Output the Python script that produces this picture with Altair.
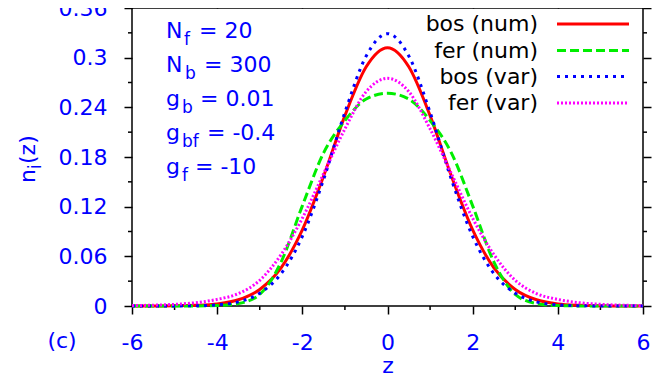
import altair as alt
import pandas as pd

# ---------------- data ----------------
z_vals = [-6.0, -5.5, -5.0, -4.5, -4.0, -3.5, -3.0, -2.5, -2.0, -1.5, -1.0, -0.5, 0.0,
          0.5, 1.0, 1.5, 2.0, 2.5, 3.0, 3.5, 4.0, 4.5, 5.0, 5.5, 6.0]
bos_num = [0.0, 0.0001, 0.0002, 0.0008, 0.0025, 0.0075, 0.020, 0.046, 0.092, 0.157, 0.230, 0.289, 0.312,
           0.289, 0.230, 0.157, 0.092, 0.046, 0.020, 0.0075, 0.0025, 0.0008, 0.0002, 0.0001, 0.0]
fer_num = [0.0, 0.0, 0.0, 0.0001, 0.0005, 0.003, 0.014, 0.053, 0.121, 0.185, 0.224, 0.250, 0.257,
           0.250, 0.224, 0.185, 0.121, 0.053, 0.014, 0.003, 0.0005, 0.0001, 0.0, 0.0, 0.0]
bos_var = [0.0, 0.0, 0.0001, 0.0003, 0.0014, 0.005, 0.0155, 0.039, 0.084, 0.153, 0.234, 0.302, 0.329,
           0.302, 0.234, 0.153, 0.084, 0.039, 0.0155, 0.005, 0.0014, 0.0003, 0.0001, 0.0, 0.0]
fer_var = [0.0005, 0.001, 0.002, 0.004, 0.008, 0.015, 0.031, 0.062, 0.106, 0.160, 0.214, 0.259, 0.275,
           0.259, 0.214, 0.160, 0.106, 0.062, 0.031, 0.015, 0.008, 0.004, 0.002, 0.001, 0.0005]

series_names = ["bos (num)", "fer (num)", "bos (var)", "fer (var)"]
series_values = [bos_num, fer_num, bos_var, fer_var]

x_major = [-6, -4, -2, 0, 2, 4, 6]
x_minor = [-5, -3, -1, 1, 3, 5]
y_major = [0, 0.06, 0.12, 0.18, 0.24, 0.3, 0.36]
y_minor = [0.03, 0.09, 0.15, 0.21, 0.27, 0.33]

param_base = ["N", "N", "g", "g", "g"]
param_sub = ["f", "b", "b", "bf", "f"]
param_val = ["= 20", "= 300", "= 0.01", "= -0.4", "= -10"]

y_title = ["n", "i", "(z)"]
panel_label = "(c)"
x_title = "z"

# ---------------- styling / layout ----------------
W, H = 511, 298
FONT = "DejaVu Sans"
FS = 22
SUBFS = 17
BLUE = "#0000ff"
colors = ["#ff0000", "#00ee00", "#0000ff", "#ff00ff"]
dashes = [None, [9, 4], [3, 5], [2, 2]]

rows = []
for name, vals in zip(series_names, series_values):
    for z, v in zip(z_vals, vals):
        rows.append({"z": z, "n": v, "series": name})
df = pd.DataFrame(rows)

xscale = alt.Scale(domain=[-6, 6], nice=False, zero=False)
yscale = alt.Scale(domain=[0, 0.36], nice=False, zero=False)

tick_common = dict(tickSize=8, tickWidth=1.5, tickColor="black", domain=False, grid=False)

x_bottom = alt.Axis(orient="bottom", values=x_major, labelExpr="'' + datum.value",
                    labelFont=FONT, labelFontSize=FS, labelColor=BLUE, labelPadding=18,
                    labelFlush=False, labelOverlap=False, title=x_title, titleFont=FONT,
                    titleFontSize=FS, titleFontWeight="normal", titleColor=BLUE,
                    titleY=66, titleBaseline="alphabetic", **tick_common)
y_left = alt.Axis(orient="left", values=y_major, labelExpr="'' + datum.value",
                  labelFont=FONT, labelFontSize=FS, labelColor=BLUE, labelPadding=17,
                  labelFlush=False, labelOverlap=False, title="", **tick_common)
x_top = alt.Axis(orient="top", values=x_major, labels=False, title="", **tick_common)
y_right = alt.Axis(orient="right", values=y_major, labels=False, title="", **tick_common)

layers = []

# axis carrier layers (invisible)
layers.append(
    alt.Chart(df).mark_point(opacity=0).encode(
        x=alt.X("z:Q", scale=xscale, axis=x_bottom),
        y=alt.Y("n:Q", scale=yscale, axis=y_left),
    )
)
layers.append(
    alt.Chart(df).mark_point(opacity=0).encode(
        x=alt.X("z:Q", scale=xscale, axis=x_top),
        y=alt.Y("n:Q", scale=yscale, axis=y_right),
    )
)

# minor ticks
mx = pd.DataFrame({"z": x_minor})
my = pd.DataFrame({"n": y_minor})
layers.append(alt.Chart(mx).mark_rule(color="black", strokeWidth=1.5).encode(
    x=alt.X("z:Q", scale=xscale, axis=None), y=alt.value(H), y2=alt.value(H + 4)))
layers.append(alt.Chart(mx).mark_rule(color="black", strokeWidth=1.5).encode(
    x=alt.X("z:Q", scale=xscale, axis=None), y=alt.value(0), y2=alt.value(-4)))
layers.append(alt.Chart(my).mark_rule(color="black", strokeWidth=1.5).encode(
    y=alt.Y("n:Q", scale=yscale, axis=None), x=alt.value(0), x2=alt.value(-4)))
layers.append(alt.Chart(my).mark_rule(color="black", strokeWidth=1.5).encode(
    y=alt.Y("n:Q", scale=yscale, axis=None), x=alt.value(W), x2=alt.value(W + 4)))

# curves
for name, col, dash in zip(series_names, colors, dashes):
    mk = dict(color=col, strokeWidth=3, interpolate="monotone")
    if dash is not None:
        mk["strokeDash"] = dash
    layers.append(
        alt.Chart(df).transform_filter(alt.datum.series == name).mark_line(**mk).encode(
            x=alt.X("z:Q", scale=xscale, axis=None),
            y=alt.Y("n:Q", scale=yscale, axis=None),
        )
    )

# legend
leg_y = [16, 42.5, 68.5, 95]
for name, col, dash, ly in zip(series_names, colors, dashes, leg_y):
    ldf = pd.DataFrame({"label": [name]})
    layers.append(alt.Chart(ldf).mark_text(align="right", baseline="middle", font=FONT,
                                           fontSize=FS, color="black").encode(
        x=alt.value(406), y=alt.value(ly), text="label:N"))
    mk = dict(color=col, strokeWidth=3)
    if dash is not None:
        mk["strokeDash"] = dash
    layers.append(alt.Chart(ldf).mark_rule(**mk).encode(
        x=alt.value(425), x2=alt.value(497), y=alt.value(ly)))

# parameter block
base_y = [30, 64, 98, 132, 166]
sub_x = [52, 53, 50, 50, 50]
val_x = [67, 72, 68, 75, 63]
for b, s, v, py, sx, vx in zip(param_base, param_sub, param_val, base_y, sub_x, val_x):
    pdf = pd.DataFrame({"b": [b], "s": [s], "v": [v]})
    layers.append(alt.Chart(pdf).mark_text(align="left", baseline="alphabetic", font=FONT,
                                           fontSize=FS, color=BLUE).encode(
        x=alt.value(34), y=alt.value(py), text="b:N"))
    layers.append(alt.Chart(pdf).mark_text(align="left", baseline="alphabetic", font=FONT,
                                           fontSize=SUBFS, color=BLUE).encode(
        x=alt.value(sx), y=alt.value(py + 7), text="s:N"))
    layers.append(alt.Chart(pdf).mark_text(align="left", baseline="alphabetic", font=FONT,
                                           fontSize=FS, color=BLUE).encode(
        x=alt.value(vx), y=alt.value(py), text="v:N"))

# rotated y title n_i(z)
yt_dx = [0, 14, 19]
yt_dy = [0, 6, 0]
yt_fs = [FS, SUBFS, FS]
for t, dx, dy, fs in zip(y_title, yt_dx, yt_dy, yt_fs):
    tdf = pd.DataFrame({"t": [t]})
    layers.append(alt.Chart(tdf).mark_text(align="left", baseline="alphabetic", angle=270,
                                           dx=dx, dy=dy, font=FONT, fontSize=fs,
                                           color=BLUE).encode(
        x=alt.value(-97), y=alt.value(175), text="t:N"))

# panel label
cdf = pd.DataFrame({"t": [panel_label]})
layers.append(alt.Chart(cdf).mark_text(align="center", baseline="alphabetic", font=FONT,
                                       fontSize=FS, color=BLUE).encode(
    x=alt.value(-70), y=alt.value(340), text="t:N"))

chart = alt.layer(*layers).resolve_axis(x="independent", y="independent").properties(
    width=W, height=H,
    padding={"left": 124, "top": 0, "right": 13, "bottom": 70},
    autosize=alt.AutoSizeParams(type="none"),
    background="white",
).configure_view(stroke="black", strokeWidth=1.5)

chart.save("out.html", embed_options={"renderer": "svg", "actions": False})
